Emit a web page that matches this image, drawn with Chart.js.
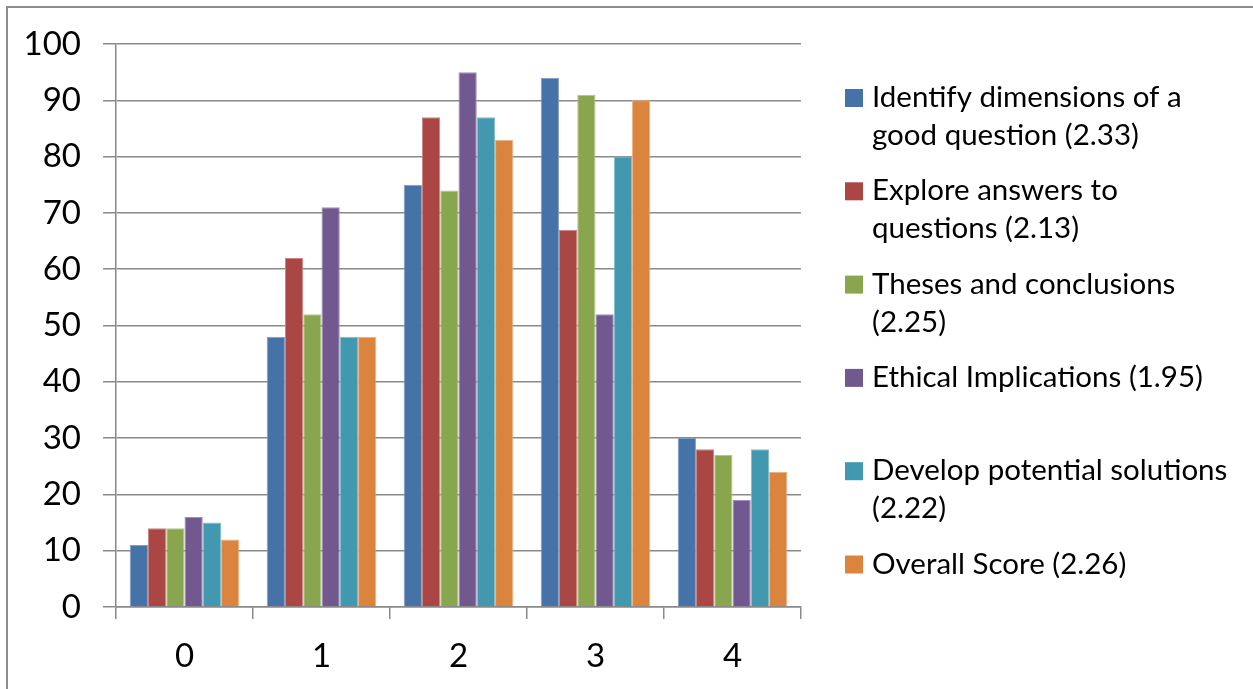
<!DOCTYPE html>
<html>
<head>
<meta charset="utf-8">
<script src="https://cdn.jsdelivr.net/npm/chart.js@4/dist/chart.umd.min.js"></script>
<style>
  html, body { margin: 0; padding: 0; background: #fff; }
  canvas { display: block; }
</style>
</head>
<body>
<canvas id="chart" width="1253" height="689"></canvas>
<script>
// Score levels on the x axis
const categories = ['0', '1', '2', '3', '4'];

// Legend text for each series, split into the lines it is shown on
const seriesNames = [
  ['Identify dimensions of a', 'good question (2.33)'],
  ['Explore answers to', 'questions (2.13)'],
  ['Theses and conclusions', '(2.25)'],
  ['Ethical Implications (1.95)'],
  ['Develop potential solutions', '(2.22)'],
  ['Overall Score (2.26)']
];

// Counts per score level, one array per series
const identifyDimensions = [11, 48, 75, 94, 30];
const exploreAnswers     = [14, 62, 87, 67, 28];
const thesesConclusions  = [14, 52, 74, 91, 27];
const ethicalImplications = [16, 71, 95, 52, 19];
const developSolutions   = [15, 48, 87, 80, 28];
const overallScore       = [12, 48, 83, 90, 24];

const seriesValues = [identifyDimensions, exploreAnswers, thesesConclusions,
                      ethicalImplications, developSolutions, overallScore];

const seriesColors = ['#4572A7', '#AA4643', '#89A54E', '#71588F', '#4198AF', '#DB843D'];
const seriesEdges  = ['#7f9dc3', '#c78583', '#b2c78f', '#a08fb6', '#86bccb', '#eab183'];

// Y axis tick range
const yMin = 0, yMax = 100, yStep = 10;

const FONT = 'Lato, "Open Sans", sans-serif';
const GRID = '#8a8a8a';

// Frame lines along the left and top edges of the canvas
const framePlugin = {
  id: 'frame',
  beforeDraw(chart) {
    const ctx = chart.ctx;
    ctx.save();
    ctx.strokeStyle = '#8c8c8c';
    ctx.lineWidth = 2;
    ctx.beginPath();
    ctx.moveTo(7, chart.height);
    ctx.lineTo(7, 7);
    ctx.lineTo(chart.width, 7);
    ctx.stroke();
    ctx.restore();
  }
};

// Right-hand legend with wrapped series names
const sideLegend = {
  id: 'sideLegend',
  afterDraw(chart) {
    const ctx = chart.ctx;
    const area = chart.chartArea;
    const left = area.right + 44;
    const top = 89;
    const pitch = 93.3;
    const lineGap = 38;
    const box = 18;
    ctx.save();
    ctx.font = '29.5px ' + FONT;
    ctx.textBaseline = 'alphabetic';
    ctx.textAlign = 'left';
    chart.data.datasets.forEach((ds, i) => {
      const y = top + i * pitch;
      ctx.fillStyle = ds.backgroundColor;
      ctx.fillRect(left, y, box, box);
      ctx.fillStyle = '#000';
      ds.legendLines.forEach((line, j) => {
        ctx.fillText(line, left + 27, y + box + j * lineGap);
      });
    });
    ctx.restore();
  }
};

new Chart(document.getElementById('chart'), {
  type: 'bar',
  data: {
    labels: categories,
    datasets: seriesValues.map((vals, i) => ({
      label: seriesNames[i].join(' '),
      legendLines: seriesNames[i],
      data: vals,
      backgroundColor: seriesColors[i],
      borderColor: seriesEdges[i],
      borderWidth: 1,
      categoryPercentage: 0.8,
      barPercentage: 1.0
    }))
  },
  options: {
    responsive: false,
    animation: false,
    devicePixelRatio: 1,
    layout: { padding: { top: 44, right: 452, bottom: 0, left: 0 } },
    plugins: {
      legend: { display: false },
      tooltip: { enabled: false },
      title: { display: false }
    },
    scales: {
      x: {
        offset: true,
        grid: {
          offset: true,
          drawOnChartArea: false,
          drawTicks: true,
          tickLength: 12,
          color: GRID,
          lineWidth: 1.5
        },
        border: { color: GRID, width: 1.5 },
        ticks: {
          color: '#000',
          font: { family: FONT, size: 33 },
          padding: 18
        },
        afterFit(scale) { scale.height = 82; }
      },
      y: {
        min: yMin,
        max: yMax,
        grid: {
          color: GRID,
          lineWidth: 1.5,
          tickLength: 13
        },
        border: { color: GRID, width: 1.5 },
        ticks: {
          stepSize: yStep,
          color: '#000',
          font: { family: FONT, size: 33 },
          padding: 22
        },
        afterFit(scale) { scale.width = 116; }
      }
    }
  },
  plugins: [framePlugin, sideLegend]
});
</script>
</body>
</html>
